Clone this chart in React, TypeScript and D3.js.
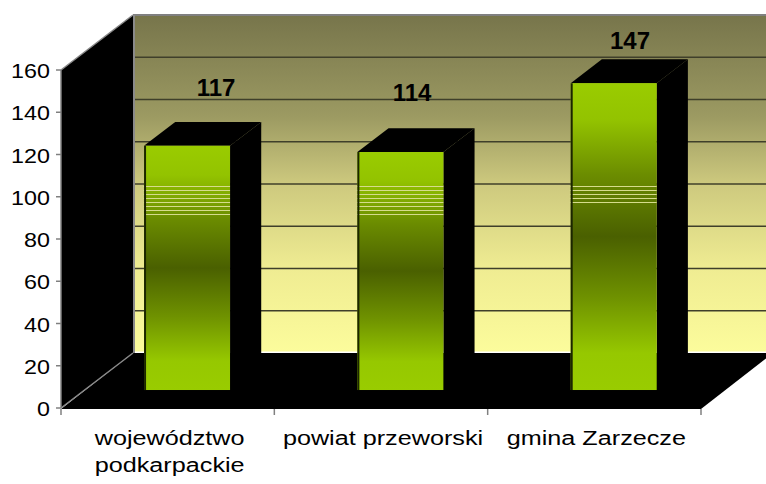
import React from "react";
import * as d3 from "d3";

const categories: string[][] = [["województwo", "podkarpackie"], ["powiat przeworski"], ["gmina Zarzecze"]];
const values: number[] = [117, 114, 147];
const yTicks: number[] = [0, 20, 40, 60, 80, 100, 120, 140, 160];
const stripeCounts: number[] = [8, 8, 5];

const W = 766;
const H = 484;
const DX = 72;
const DY = -55;
const FRONT_F = 0.327;
const BACK_F = 0.76;

export default function App() {
  const keys = categories.map((c) => c.join(" "));
  const x = d3.scaleBand<string>().domain(keys).range([61, 701]);
  const y = d3.scaleLinear().domain([0, 160]).range([408, 70]);
  const yBar = d3.scaleLinear().domain([0, 160]).range([408 + DY * FRONT_F, 408 + DY * FRONT_F - 334]);
  const yLabel = d3.scaleLinear().domain([0, 160]).range([279.3, 28.6]);
  const bw = x.bandwidth();
  const barOff = 59.5;
  const barW = 86;
  const fdx = DX * FRONT_F;
  const bdx = DX * BACK_F;
  const bdy = DY * BACK_F;
  const fdy = DY * FRONT_F;
  const labelX = [216, 412, 630];

  const x0 = 61;
  const x1 = 701;
  const y0 = y(0);
  const yTop = y(160);

  return (
    <svg width={W} height={H} style={{ position: "absolute", left: 0, top: 0 }} fontFamily="'Liberation Sans', Arial, sans-serif">
      <defs>
        <linearGradient id="wall" x1="0" y1="0" x2="0" y2="1">
          <stop offset="0" stopColor="#77754b" />
          <stop offset="0.3" stopColor="#9c9a62" />
          <stop offset="0.5" stopColor="#cdc97e" />
          <stop offset="0.75" stopColor="#efec92" />
          <stop offset="1" stopColor="#fcfc9c" />
        </linearGradient>
        <linearGradient id="bar" x1="0" y1="0" x2="0" y2="1">
          <stop offset="0" stopColor="#9acc00" />
          <stop offset="0.12" stopColor="#93c300" />
          <stop offset="0.3" stopColor="#6b8c00" />
          <stop offset="0.5" stopColor="#4a6000" />
          <stop offset="0.7" stopColor="#6f9200" />
          <stop offset="0.88" stopColor="#96c800" />
          <stop offset="1" stopColor="#99cc00" />
        </linearGradient>
      </defs>
      {/* back wall */}
      <rect x={x0 + DX} y={yTop + DY} width={W - (x0 + DX)} height={y0 - yTop} fill="url(#wall)" />
      {yTicks.slice(1).map((t) => (
        <line key={"g" + t} x1={x0 + DX} x2={W} y1={y(t) + DY} y2={y(t) + DY} stroke="#3f3f2a" strokeWidth={1.6} />
      ))}
      <line x1={x0 + DX} x2={W} y1={y0 + DY - 0.5} y2={y0 + DY - 0.5} stroke="#ffffff" strokeWidth={2} />
      <line x1={x0 + DX} x2={W} y1={yTop + DY} y2={yTop + DY} stroke="#808080" strokeWidth={2} />
      <line x1={x0 + DX + 1} x2={x0 + DX + 1} y1={yTop + DY} y2={y0 + DY} stroke="#8a8a8a" strokeWidth={2} />
      {/* left wall */}
      <polygon points={`${x0},${yTop} ${x0 + DX},${yTop + DY} ${x0 + DX},${y0 + DY} ${x0},${y0}`} fill="#000" />
      <line x1={x0} y1={yTop} x2={x0 + DX} y2={yTop + DY} stroke="#888" strokeWidth={1.5} />
      {/* floor */}
      <polygon points={`${x0},${y0 + 1} ${x1},${y0 + 1} ${x1 + DX},${y0 + DY} ${x0 + DX},${y0 + DY}`} fill="#000" />
      <line x1={x0} y1={y0} x2={x0 + DX} y2={y0 + DY} stroke="#888" strokeWidth={1.5} />
      {/* bars */}
      {values.map((v, i) => {
        const k = keys[i];
        const fl = (x(k) as number) + barOff + fdx;
        const fr = fl + barW;
        const ft = yBar(v);
        const fb = yBar(0);
        const ddx = bdx - fdx;
        const ddy = bdy - fdy;
        const stripes = d3.range(stripeCounts[i]).map((j) => 186 + j * 4);
        return (
          <g key={k}>
            <polygon points={`${fr},${fb} ${fr},${ft} ${fr + ddx},${ft + ddy} ${fr + ddx},${fb + ddy}`} fill="#000" />
            <polygon points={`${fl},${ft} ${fr},${ft} ${fr + ddx},${ft + ddy} ${fl + ddx},${ft + ddy}`} fill="#000" />
            <rect x={fl} y={ft} width={barW} height={fb - ft} fill="url(#bar)" />
            {stripes.map((sy) => (
              <line key={sy} x1={fl - 1} x2={fr} y1={sy + 0.5} y2={sy + 0.5} stroke="#d6dc8c" strokeWidth={1} />
            ))}
            <line x1={fl + 1} x2={fl + 1} y1={ft} y2={fb} stroke="#1c2600" strokeWidth={2} />
            <text x={labelX[i]} y={yLabel(v)} textAnchor="middle" fontWeight="bold" fontSize={24} fill="#000">
              {v}
            </text>
          </g>
        );
      })}
      {/* y axis */}
      <line x1={x0} x2={x0} y1={yTop} y2={y0} stroke="#808080" strokeWidth={1.5} />
      {yTicks.map((t) => (
        <g key={"t" + t}>
          <line x1={x0 - 5} x2={x0} y1={y(t)} y2={y(t)} stroke="#808080" strokeWidth={1.5} />
          <text transform={`translate(50,${y(t) + 8}) scale(1.11,1)`} textAnchor="end" fontSize={21} fill="#000">
            {t}
          </text>
        </g>
      ))}
      {/* x ticks */}
      {[...keys.map((k) => x(k) as number), x1].map((tx, i) => (
        <line key={"xt" + i} x1={tx} x2={tx} y1={y0 + 1} y2={y0 + 7} stroke="#808080" strokeWidth={1.5} />
      ))}
      {categories.map((lines, i) => {
        const cx = (x(keys[i]) as number) + bw / 2 + 2;
        return lines.map((ln, j) => (
          <text key={keys[i] + j} transform={`translate(${cx},${445 + j * 27}) scale(1.2,1)`} textAnchor="middle" fontSize={21} fill="#000">
            {ln}
          </text>
        ));
      })}
    </svg>
  );
}
